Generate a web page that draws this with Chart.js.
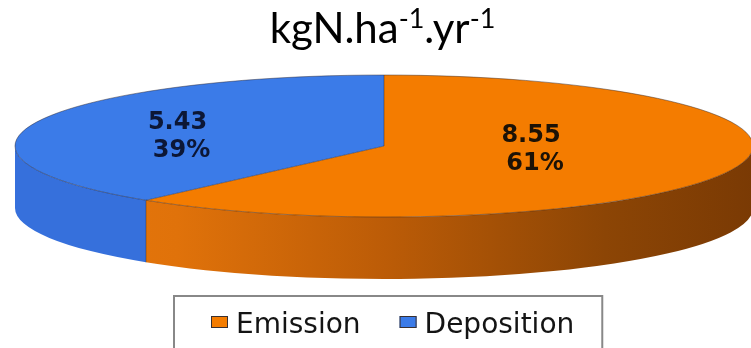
<!DOCTYPE html>
<html>
<head>
<meta charset="utf-8">
<script src="https://cdn.jsdelivr.net/npm/chart.js@4.4.1/dist/chart.umd.min.js"></script>
<style>
  html, body { margin: 0; padding: 0; background: #ffffff; }
  #wrap { width: 751px; height: 348px; position: relative; }
</style>
</head>
<body>
<div id="wrap"><canvas id="c" width="751" height="348"></canvas></div>
<script>
// Nitrogen budget, kgN per hectare per year
const categories = ['Emission', 'Deposition'];
const values = [8.55, 5.43];
const titleParts = [['kgN.ha', false], ['-1', true], ['.yr', false], ['-1', true]];

// Geometry of the tilted pie
const W = 751, H = 348;
const CX = 384, CY = 146;      // centre of the top face
const RX = 369, RY = 71;       // radii of the top face ellipse
const DEPTH = 62;              // thickness of the disc
const BASE_R = 100;            // radius Chart.js lays out before the tilt

const topColors = ['#F47C00', '#3B7BE8'];
const labelColors = ['#1c1206', '#0c1736'];

function sideFill(ctx, i) {
  if (i === 0) {
    const g = ctx.createLinearGradient(CX - RX, 0, CX + RX, 0);
    g.addColorStop(0.00, '#e8790c');
    g.addColorStop(0.22, '#e0720a');
    g.addColorStop(0.50, '#bc5c07');
    g.addColorStop(0.80, '#8c4505');
    g.addColorStop(1.00, '#7a3a04');
    return g;
  }
  return '#3670dc';
}

const pie3d = {
  id: 'pie3d',
  beforeDatasetsDraw(chart) {
    const ctx = chart.ctx;
    const arcs = chart.getDatasetMeta(0).data;
    const cx = arcs[0].x, cy = arcs[0].y, r = arcs[0].outerRadius;
    const sx = RX / r, sy = RY / r;

    // walls of the disc: only the front half (angles 0..π) faces the viewer
    arcs.forEach((arc, i) => {
      for (let k = -1; k <= 1; k++) {
        const lo = Math.max(arc.startAngle, 2 * Math.PI * k);
        const hi = Math.min(arc.endAngle, 2 * Math.PI * k + Math.PI);
        if (hi <= lo) continue;
        ctx.save();
        ctx.fillStyle = sideFill(ctx, i);
        ctx.beginPath();
        ctx.ellipse(cx, cy, RX, RY, 0, lo, hi);
        ctx.ellipse(cx, cy + DEPTH, RX, RY, 0, hi, lo, true);
        ctx.closePath();
        ctx.fill();
        ctx.restore();
      }
    });

    // vertical seam where two slices meet on the wall
    arcs.forEach((arc) => {
      const a = arc.startAngle;
      const s = Math.sin(a);
      if (s > 0.02) {
        const x = cx + RX * Math.cos(a), y = cy + RY * s;
        ctx.save();
        ctx.strokeStyle = 'rgba(40,30,30,0.4)';
        ctx.lineWidth = 1;
        ctx.beginPath();
        ctx.moveTo(x, y);
        ctx.lineTo(x, y + DEPTH);
        ctx.stroke();
        ctx.restore();
      }
    });

    // tilt the top face
    ctx.save();
    ctx.translate(cx, cy);
    ctx.scale(sx, sy);
    ctx.translate(-cx, -cy);
  },
  afterDatasetsDraw(chart, args, opts) {
    const ctx = chart.ctx;
    ctx.restore();
    const arcs = chart.getDatasetMeta(0).data;
    const cx = arcs[0].x, cy = arcs[0].y;

    // outline of the top face
    ctx.save();
    ctx.lineWidth = 1;
    ctx.strokeStyle = 'rgba(45,35,40,0.45)';
    ctx.beginPath();
    ctx.ellipse(cx, cy, RX, RY, 0, 0, Math.PI * 2);
    ctx.stroke();
    arcs.forEach((arc) => {
      ctx.beginPath();
      ctx.moveTo(cx, cy);
      ctx.lineTo(cx + RX * Math.cos(arc.startAngle), cy + RY * Math.sin(arc.startAngle));
      ctx.stroke();
    });
    ctx.restore();

    // value and share labels
    const total = values.reduce((a, b) => a + b, 0);
    ctx.save();
    ctx.font = 'bold 24px "DejaVu Sans"';
    ctx.textAlign = 'center';
    ctx.textBaseline = 'alphabetic';
    arcs.forEach((arc, i) => {
      const mid = (arc.startAngle + arc.endAngle) / 2;
      const f = opts.radial[i];
      const x = cx + RX * f * Math.cos(mid) + opts.shift[i][0];
      const y = cy + RY * f * Math.sin(mid) + opts.shift[i][1];
      ctx.fillStyle = labelColors[i];
      ctx.fillText(values[i].toFixed(2), x - 2, y - 14);
      ctx.fillText(Math.round(values[i] / total * 100) + '%', x + 2, y + 14);
    });
    ctx.restore();
  }
};

const boxedLegend = {
  id: 'boxedLegend',
  afterDraw(chart) {
    const ctx = chart.ctx;
    const colors = chart.data.datasets[0].backgroundColor;
    ctx.save();
    ctx.font = '28px "DejaVu Sans"';
    const mw = 17, mh = 12, gap = 8, itemGap = 39, padL = 37, padR = 28;
    let width = 0;
    chart.data.labels.forEach((t, i) => {
      width += mw + gap + ctx.measureText(t).width + (i ? itemGap : 0);
    });
    const boxW = padL + width + padR;
    const left = Math.round(388 - boxW / 2), top = 296;
    ctx.strokeStyle = '#888888';
    ctx.lineWidth = 2;
    ctx.strokeRect(left, top, boxW, 60);
    let x = left + padL;
    const base = 333;
    chart.data.labels.forEach((t, i) => {
      ctx.fillStyle = colors[i];
      ctx.fillRect(x, 316, mw, mh);
      ctx.strokeStyle = '#3a3030';
      ctx.lineWidth = 1;
      ctx.strokeRect(x + 0.5, 316.5, mw - 1, mh - 1);
      x += mw + gap;
      ctx.fillStyle = '#141414';
      ctx.textBaseline = 'alphabetic';
      ctx.fillText(t, x, base);
      x += ctx.measureText(t).width + itemGap;
    });
    ctx.restore();
  }
};

const unitTitle = {
  id: 'unitTitle',
  afterDraw(chart) {
    const ctx = chart.ctx;
    const big = '42px Lato', small = '27px Lato';
    ctx.save();
    let total = 0;
    titleParts.forEach(([t, sup]) => { ctx.font = sup ? small : big; total += ctx.measureText(t).width; });
    let x = 382.5 - total / 2;
    ctx.fillStyle = '#000000';
    ctx.textBaseline = 'alphabetic';
    titleParts.forEach(([t, sup]) => {
      ctx.font = sup ? small : big;
      ctx.fillText(t, x, sup ? 28 : 43);
      x += ctx.measureText(t).width;
    });
    ctx.restore();
  }
};

new Chart(document.getElementById('c'), {
  type: 'pie',
  data: {
    labels: categories,
    datasets: [{
      data: values,
      backgroundColor: topColors,
      borderWidth: 0,
      hoverOffset: 0,
      clip: false
    }]
  },
  options: {
    responsive: false,
    animation: false,
    events: [],
    layout: {
      padding: { left: CX - BASE_R, right: W - CX - BASE_R, top: CY - BASE_R, bottom: H - CY - BASE_R }
    },
    plugins: {
      legend: { display: false },
      tooltip: { enabled: false },
      title: { display: false },
      pie3d: { radial: [0.43, 0.59], shift: [[0, 0], [0, 11]] }
    }
  },
  plugins: [pie3d, boxedLegend, unitTitle]
});
</script>
</body>
</html>
